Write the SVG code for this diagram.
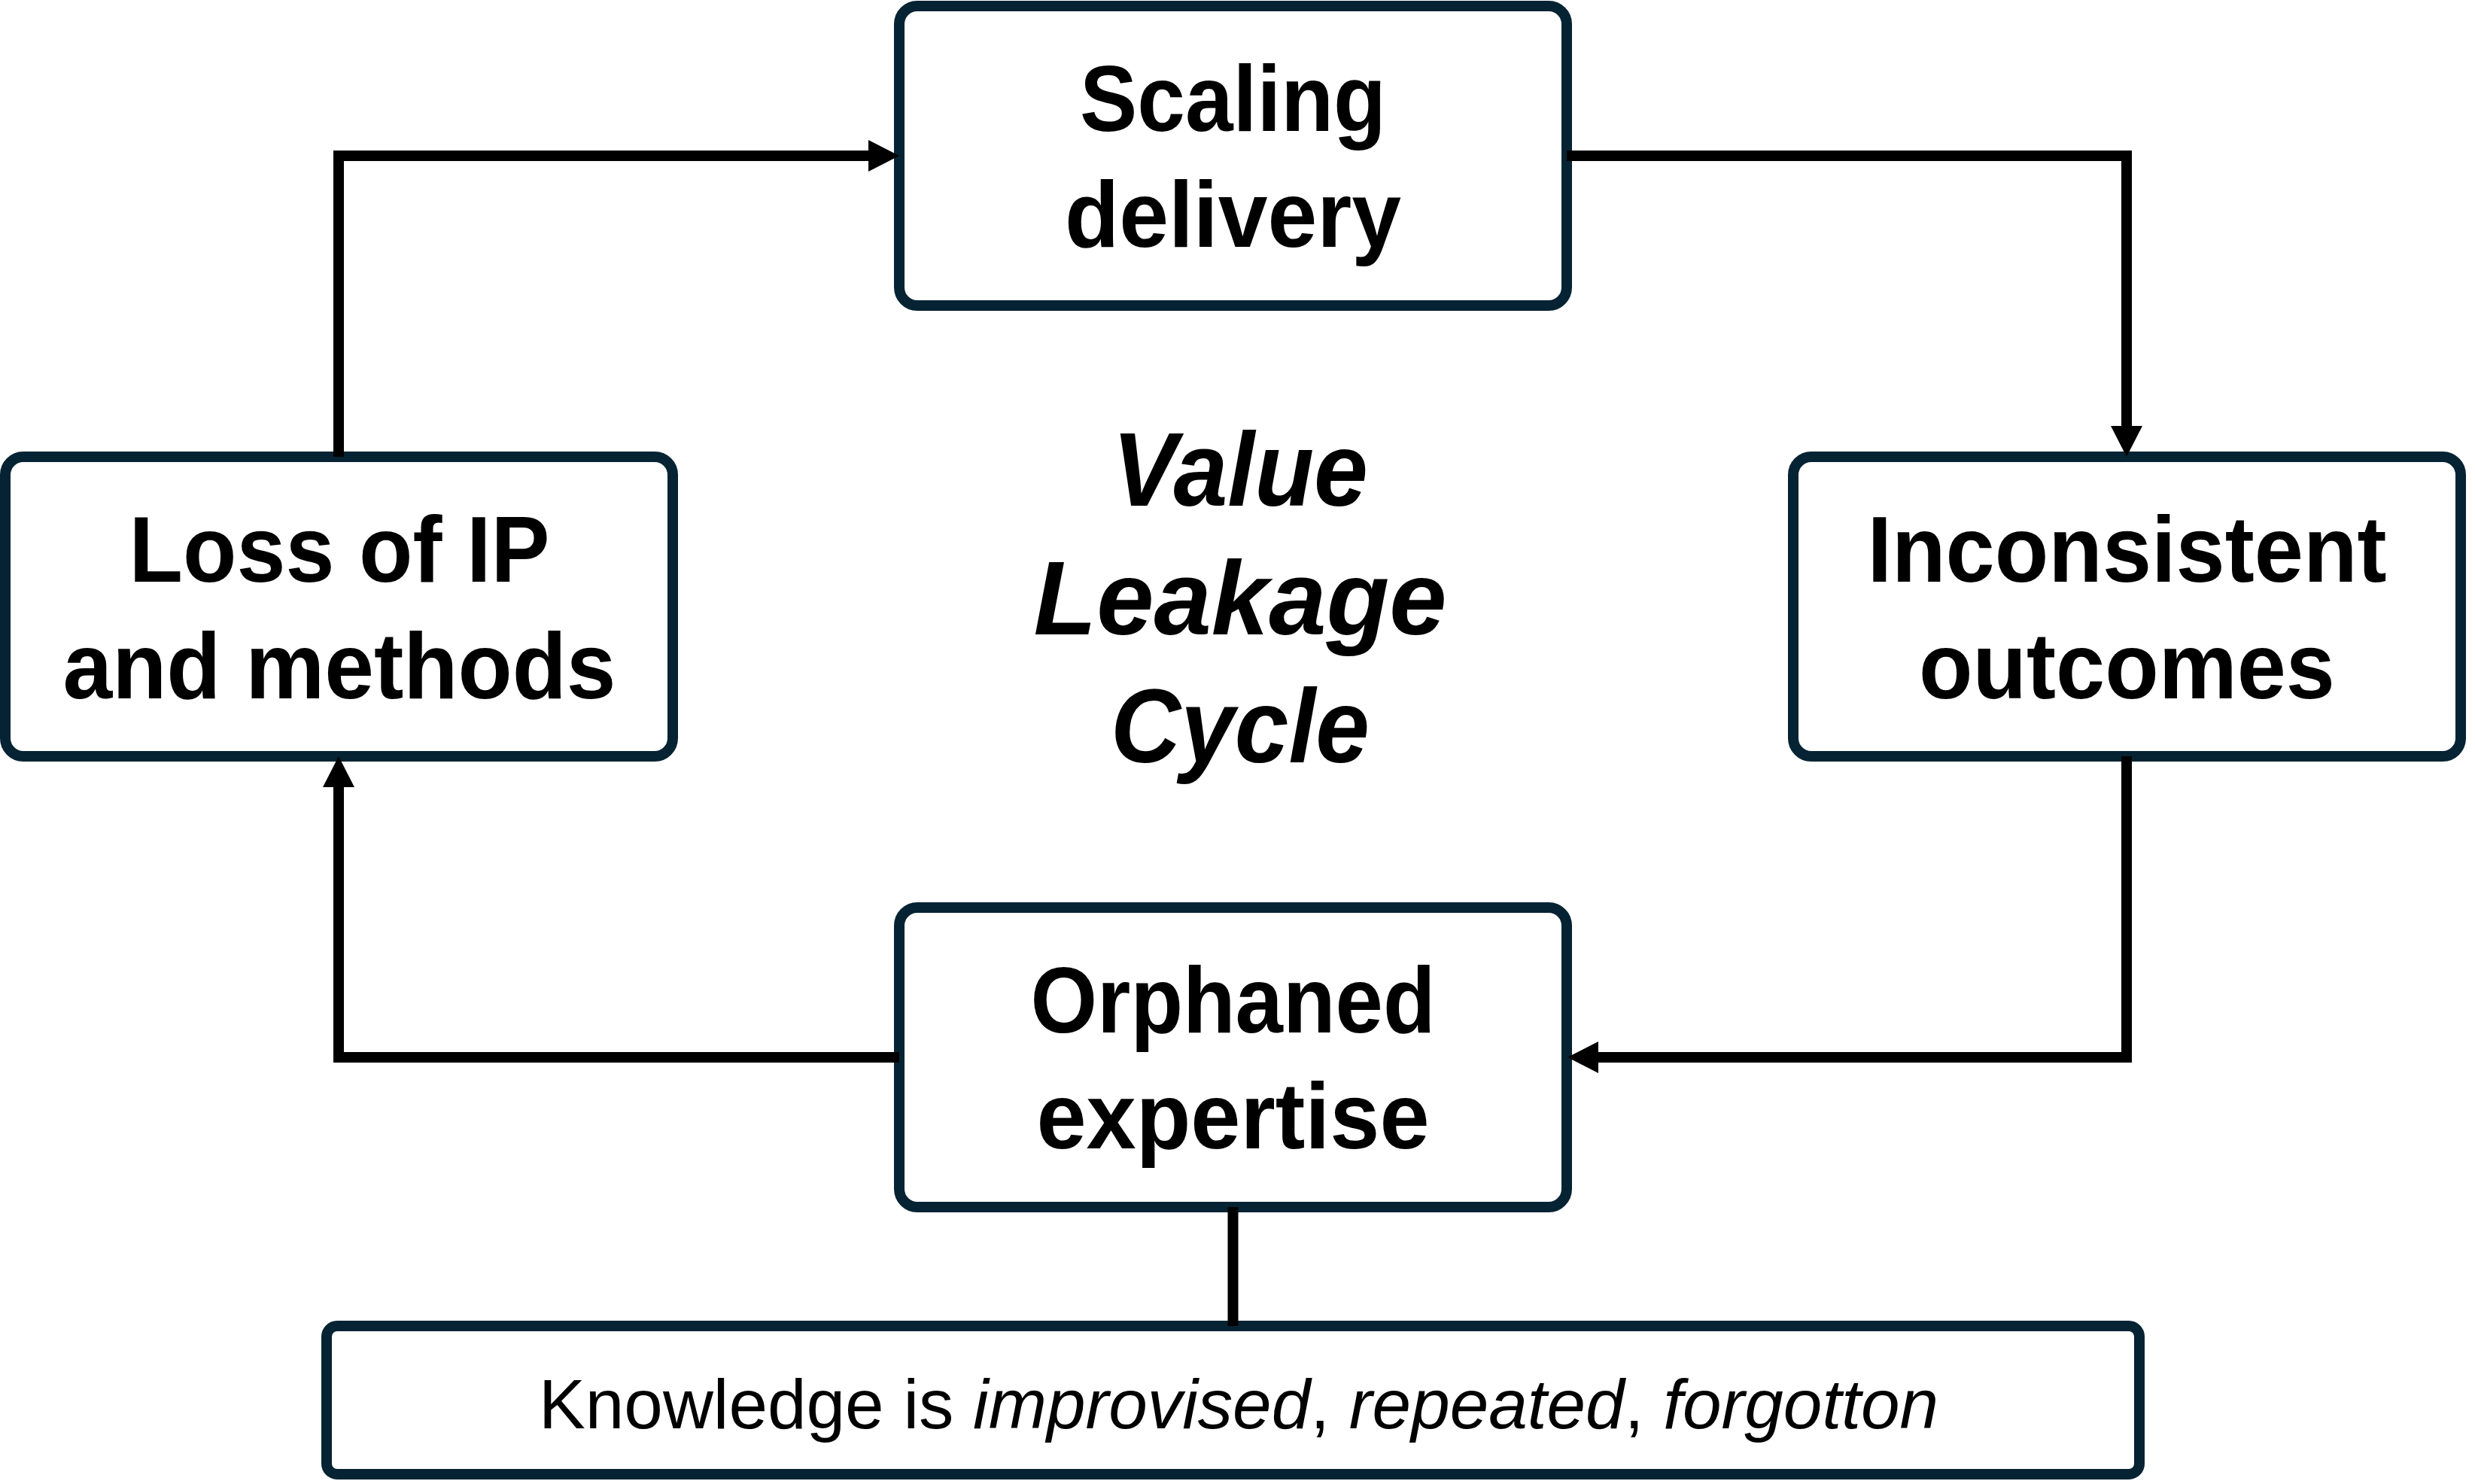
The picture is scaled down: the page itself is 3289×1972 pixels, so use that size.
<svg xmlns="http://www.w3.org/2000/svg" width="3289" height="1972" viewBox="0 0 3289 1972">
<defs>
<style>
.box{fill:#ffffff;stroke:#062333;stroke-width:14}
.lbl{font-family:"Liberation Sans",Arial,sans-serif;font-weight:bold;font-size:125px;fill:#000000;text-anchor:middle}
.title{font-family:"Liberation Sans",Arial,sans-serif;font-weight:bold;font-style:italic;font-size:140px;fill:#000000;text-anchor:middle}
.note{font-family:"Liberation Sans",Arial,sans-serif;font-weight:normal;font-size:92px;fill:#000000;text-anchor:middle}
.it{font-style:italic}
.conn{fill:none;stroke:#000000;stroke-width:14;stroke-linejoin:miter;stroke-linecap:butt}
</style>
<marker id="arr" markerUnits="userSpaceOnUse" viewBox="0 0 41 42" markerWidth="41" markerHeight="42" refX="0" refY="21" orient="auto">
<path d="M0,0 L41,21 L0,42 z" fill="#000000"/>
</marker>
</defs>
<rect x="0" y="0" width="3289" height="1972" fill="#ffffff"/>

<g id="node-scaling">
<rect class="box" x="1195" y="8" width="887" height="398" rx="24"/>
<text class="lbl" x="1638.5" y="174" textLength="407" lengthAdjust="spacingAndGlyphs">Scaling</text>
<text class="lbl" x="1638.5" y="328" textLength="447" lengthAdjust="spacingAndGlyphs">delivery</text>
</g>
<g id="node-loss">
<rect class="box" x="7" y="607" width="887" height="398" rx="24"/>
<text class="lbl" x="451" y="773" textLength="559" lengthAdjust="spacingAndGlyphs">Loss of IP</text>
<text class="lbl" x="451" y="928" textLength="735" lengthAdjust="spacingAndGlyphs">and methods</text>
</g>
<g id="node-inconsistent">
<rect class="box" x="2383" y="607" width="887" height="398" rx="24"/>
<text class="lbl" x="2826.5" y="773" textLength="690" lengthAdjust="spacingAndGlyphs">Inconsistent</text>
<text class="lbl" x="2826.5" y="928" textLength="553" lengthAdjust="spacingAndGlyphs">outcomes</text>
</g>
<g id="node-orphaned">
<rect class="box" x="1195" y="1206" width="887" height="398" rx="24"/>
<text class="lbl" x="1638.5" y="1372" textLength="538" lengthAdjust="spacingAndGlyphs">Orphaned</text>
<text class="lbl" x="1638.5" y="1526" textLength="522" lengthAdjust="spacingAndGlyphs">expertise</text>
</g>
<g id="node-knowledge">
<rect class="box" x="434" y="1762" width="2409" height="197" rx="14"/>
<text class="note" x="1646" y="1898" textLength="1860" lengthAdjust="spacingAndGlyphs">Knowledge is <tspan class="it">improvised</tspan>, <tspan class="it">repeated</tspan>, <tspan class="it">forgotton</tspan></text>
</g>
<g id="title">
<text class="title" x="1648" y="672" textLength="340" lengthAdjust="spacingAndGlyphs">Value</text>
<text class="title" x="1648" y="843" textLength="549" lengthAdjust="spacingAndGlyphs">Leakage</text>
<text class="title" x="1648" y="1013" textLength="344" lengthAdjust="spacingAndGlyphs">Cycle</text>
</g>

<g id="connectors">
<path class="conn" d="M450,607 V207 H1154" marker-end="url(#arr)"/>
<path class="conn" d="M2082,207 H2826 V566" marker-end="url(#arr)"/>
<path class="conn" d="M2826,1005 V1405 H2124" marker-end="url(#arr)"/>
<path class="conn" d="M1195,1405 H450 V1046" marker-end="url(#arr)"/>
<path class="conn" d="M1638.5,1604 V1762"/>
</g>
</svg>
